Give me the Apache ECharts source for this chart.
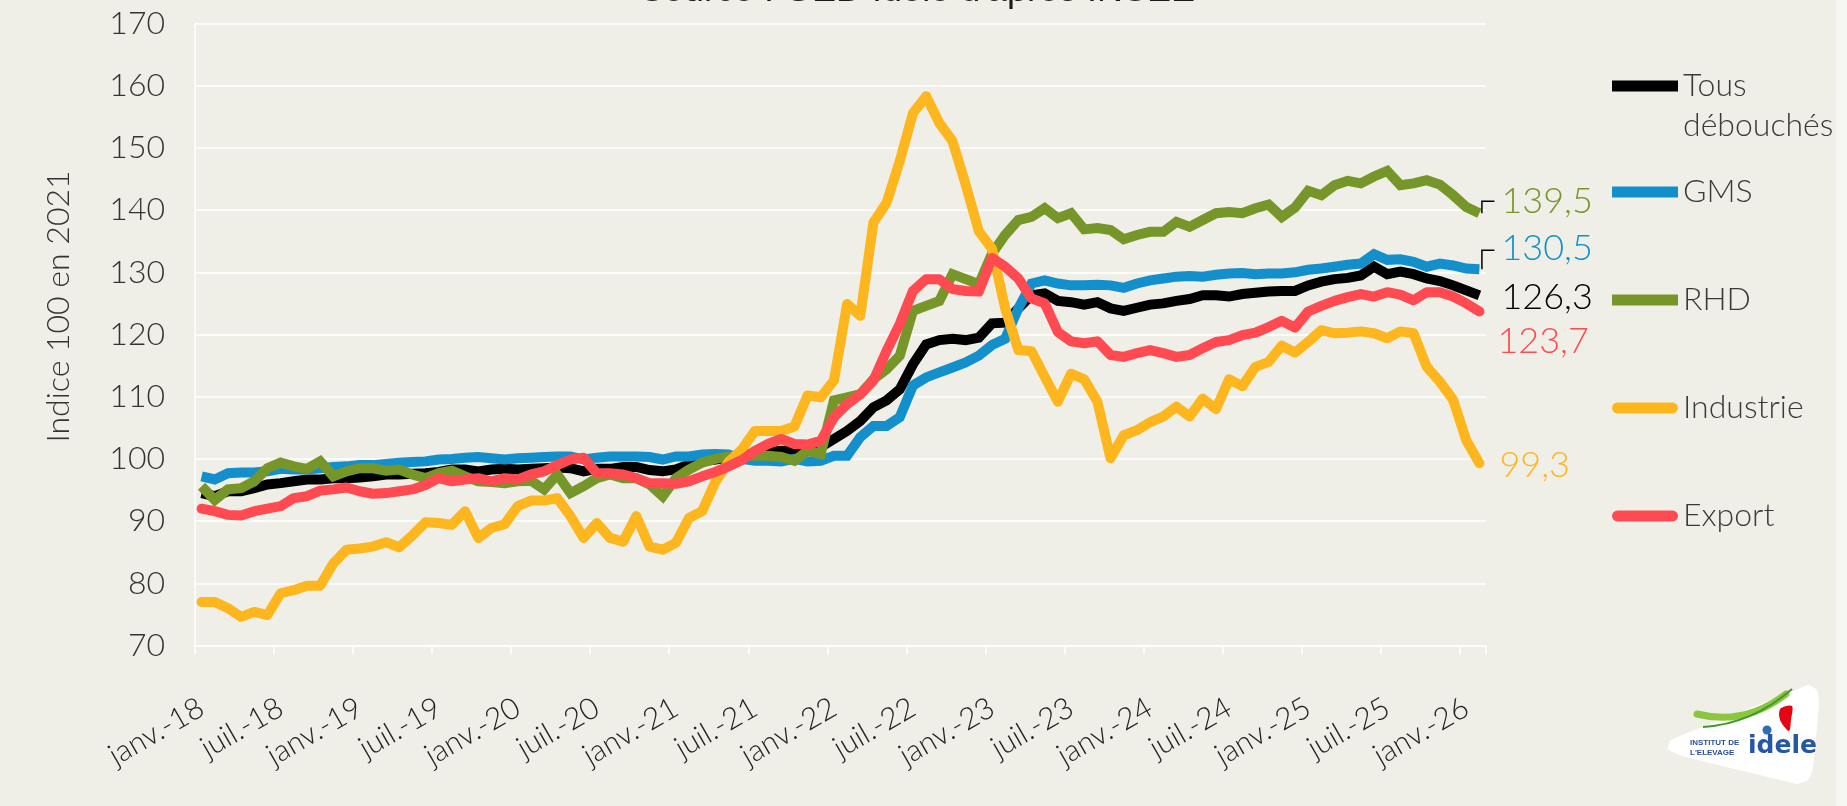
<!DOCTYPE html>
<html>
<head>
<meta charset="utf-8">
<title>Indice 100 en 2021</title>
<script src="https://cdn.jsdelivr.net/npm/echarts@6/dist/echarts.min.js"></script>
<style>
  html, body { margin: 0; padding: 0; background: #efefe8; }
  #chart { width: 1847px; height: 806px; }
</style>
</head>
<body>
<div id="chart"></div>
<script>
// mois : janv. 2018 -> févr. 2026
const moisFr = ["janv.", "févr.", "mars", "avr.", "mai", "juin", "juil.", "août", "sept.", "oct.", "nov.", "déc."];
const startYear = 18;
const nbMois = 98;

const tousDebouches = [
  94.5, 94.0, 94.8, 94.8, 95.3, 95.9, 96.1, 96.4, 96.7, 96.7, 96.9, 96.9,
  97.0, 97.2, 97.5, 97.5, 97.6, 97.7, 97.9, 98.3, 98.3, 98.0, 98.3, 98.4,
  98.3, 98.4, 98.5, 98.6, 98.5, 98.0, 98.4, 98.4, 98.7, 98.7, 98.2, 98.0,
  98.3, 99.1, 99.6, 99.9, 100.2, 100.6, 100.9, 101.1, 101.3, 101.3, 101.4, 101.9,
  103.2, 104.5, 106.1, 108.3, 109.4, 111.2, 115.2, 118.4, 119.1, 119.3, 119.1, 119.5,
  121.8, 121.9, 124.2, 126.3, 126.6, 125.4, 125.2, 124.8, 125.2, 124.2, 123.8, 124.3,
  124.8, 125.0, 125.4, 125.7, 126.3, 126.3, 126.1, 126.5, 126.7, 126.9, 127.0, 127.0,
  127.9, 128.5, 128.9, 129.1, 129.5, 130.9, 129.7, 130.1, 129.7, 129.0, 128.6, 127.9,
  127.1, 126.3
];
const gms = [
  97.2, 96.7, 97.7, 97.8, 97.8, 98.0, 98.4, 98.3, 98.3, 98.5, 98.7, 98.8,
  99.0, 99.0, 99.2, 99.4, 99.5, 99.6, 99.9, 100.0, 100.2, 100.3, 100.1, 99.9,
  100.1, 100.2, 100.3, 100.4, 100.4, 99.9, 100.2, 100.4, 100.4, 100.4, 100.3, 99.9,
  100.4, 100.4, 100.7, 100.8, 100.7, 100.0, 99.7, 99.7, 99.6, 100.0, 99.6, 99.7,
  100.5, 100.5, 103.5, 105.3, 105.3, 106.7, 111.8, 113.1, 113.9, 114.7, 115.5, 116.6,
  118.3, 119.3, 124.2, 128.2, 128.7, 128.2, 127.9, 127.9, 128.0, 127.9, 127.5, 128.2,
  128.7, 129.0, 129.3, 129.4, 129.3, 129.6, 129.8, 129.9, 129.7, 129.8, 129.8, 130.0,
  130.4, 130.6, 130.9, 131.2, 131.4, 132.9, 132.0, 132.1, 131.7, 130.9, 131.4, 131.1,
  130.6, 130.5
];
const rhd = [
  95.6, 93.4, 95.1, 95.3, 96.4, 98.5, 99.4, 98.8, 98.4, 99.6, 97.2, 98.0,
  98.5, 98.5, 98.1, 98.3, 97.5, 96.9, 97.7, 98.1, 97.2, 96.4, 96.3, 96.1,
  96.4, 96.5, 95.1, 97.5, 94.5, 95.6, 96.9, 97.5, 96.9, 96.9, 95.9, 94.0,
  96.9, 98.3, 99.4, 100.0, 100.4, 100.5, 100.5, 100.5, 100.3, 99.7, 101.3, 100.8,
  109.4, 109.9, 110.4, 112.8, 114.4, 116.6, 123.8, 124.6, 125.4, 129.7, 128.9, 128.1,
  133.0, 136.0, 138.4, 138.9, 140.3, 138.7, 139.5, 136.9, 137.1, 136.8, 135.3, 136.0,
  136.5, 136.5, 138.1, 137.3, 138.4, 139.5, 139.7, 139.5, 140.3, 140.9, 138.9, 140.4,
  143.1, 142.4, 144.0, 144.7, 144.3, 145.4, 146.3, 144.0, 144.3, 144.8, 144.1, 142.4,
  140.5, 139.5
];
const industrie = [
  77.0, 77.0, 76.0, 74.6, 75.4, 74.9, 78.4, 78.9, 79.6, 79.6, 83.2, 85.4,
  85.6, 85.9, 86.6, 85.8, 87.7, 89.8, 89.7, 89.4, 91.6, 87.3, 88.9, 89.5,
  92.4, 93.3, 93.3, 93.7, 90.8, 87.3, 89.7, 87.3, 86.7, 90.8, 85.9, 85.4,
  86.5, 90.5, 91.6, 96.3, 99.5, 101.5, 104.5, 104.5, 104.5, 105.2, 110.2, 109.9,
  112.6, 124.9, 123.0, 138.0, 141.2, 147.9, 155.6, 158.3, 154.0, 151.1, 144.1, 136.6,
  133.8, 124.2, 117.5, 117.3, 113.2, 109.2, 113.7, 112.8, 109.2, 100.1, 103.8, 104.6,
  105.9, 106.8, 108.4, 106.8, 109.7, 108.0, 112.8, 111.7, 114.8, 115.6, 118.2, 117.1,
  118.8, 120.7, 120.2, 120.3, 120.5, 120.2, 119.4, 120.5, 120.2, 114.8, 112.4, 109.5,
  103.0, 99.3
];
const exportSerie = [
  92.0, 91.6, 91.0, 90.9, 91.6, 92.0, 92.4, 93.7, 94.0, 94.9, 95.1, 95.4,
  94.8, 94.4, 94.5, 94.8, 95.1, 95.8, 96.9, 96.4, 96.7, 96.9, 96.4, 96.9,
  96.7, 97.5, 98.0, 99.0, 99.9, 100.2, 97.7, 97.7, 97.5, 96.9, 96.1, 96.1,
  96.0, 96.4, 97.2, 97.9, 98.8, 99.8, 101.3, 102.4, 103.2, 102.4, 102.3, 102.9,
  106.7, 108.8, 110.4, 112.6, 117.4, 121.7, 127.0, 128.9, 128.9, 127.3, 127.0, 126.9,
  132.3, 130.9, 129.0, 125.8, 125.0, 120.4, 118.9, 118.6, 118.9, 116.7, 116.4, 117.0,
  117.5, 117.0, 116.4, 116.7, 117.8, 118.8, 119.1, 119.9, 120.3, 121.2, 122.2, 121.1,
  123.7, 124.6, 125.4, 126.0, 126.5, 126.1, 126.8, 126.4, 125.5, 126.8, 126.8, 126.1,
  125.0, 123.7
];

const categories = [];
for (let i = 0; i < nbMois; i++) {
  categories.push(moisFr[i % 12] + "-" + (startYear + Math.floor(i / 12)));
}

const FONT = "Lato";
const roundIcon = "path://M5,0 L61,0 A5.5,5.5 0 0 1 61,11 L5,11 A5.5,5.5 0 0 1 5,0 Z";

// series : nom, données, couleur, extrémité, décalage de l'étiquette de fin
const seriesDef = [
  { name: "Tous débouchés", data: tousDebouches, color: "#000000", cap: "butt", icon: "rect", off: [22, 2], legendTop: 26 },
  { name: "GMS", data: gms, color: "#1390cc", cap: "butt", icon: "rect", off: [22, -21], legendTop: 172, leader: 19 },
  { name: "RHD", data: rhd, color: "#77962a", cap: "butt", icon: "rect", off: [22, -12], legendTop: 280, leader: 12 },
  { name: "Industrie", data: industrie, color: "#fdb61e", cap: "round", icon: roundIcon, off: [20, 2], legendTop: 388 },
  { name: "Export", data: exportSerie, color: "#ff4a52", cap: "round", icon: roundIcon, off: [18, 30], legendTop: 496 },
];

var myChart = echarts.init(document.getElementById("chart"));

const fmt = (v) => v.toFixed(1).replace(".", ",");

myChart.setOption({
  animation: false,
  backgroundColor: "#efefe8",
  textStyle: { fontFamily: FONT },
  title: {
    text: "Source : GEB-Idele d'après INSEE",
    left: 640,
    top: -27,
    padding: 0,
    textStyle: { fontFamily: "Liberation Sans", fontSize: 36, fontWeight: "normal", color: "#1a1a1a" },
  },
  grid: { left: 195, right: 361, top: 23.5, bottom: 160.5 },
  legend: seriesDef.map((s) => ({
    data: [{ name: s.name, icon: s.icon }],
    orient: "vertical",
    left: 1612,
    top: s.legendTop,
    padding: 0,
    itemWidth: 66,
    itemHeight: 11,
    selectedMode: false,
    formatter: (name) => (name === "Tous débouchés" ? "\nTous\ndébouchés" : name),
    textStyle: { fontFamily: FONT, fontWeight: 300, fontSize: 32, lineHeight: 40, color: "#3a3a3a" },
  })),
  xAxis: {
    type: "category",
    data: categories,
    boundaryGap: true,
    axisLine: { lineStyle: { color: "#ffffff", width: 1.5 } },
    axisTick: { show: true, interval: 5, length: 9, lineStyle: { color: "#ffffff", width: 1.5 } },
    axisLabel: {
      interval: 5,
      rotate: 30,
      margin: 60,
      fontFamily: FONT,
      fontWeight: 300,
      fontSize: 30,
      color: "#222",
    },
    splitLine: { show: false },
  },
  yAxis: {
    type: "value",
    min: 70,
    max: 170,
    interval: 10,
    name: "Indice 100 en 2021",
    nameLocation: "middle",
    nameGap: 120,
    nameTextStyle: { fontFamily: FONT, fontWeight: 300, fontSize: 32, color: "#333", padding: [0, 0, 0, 56] },
    axisLine: { show: true, lineStyle: { color: "#ffffff", width: 1.5 } },
    axisTick: { show: false },
    axisLabel: { margin: 30, fontFamily: FONT, fontWeight: 300, fontSize: 32, color: "#333" },
    splitLine: { lineStyle: { color: "#ffffff", width: 1.5 } },
  },
  series: seriesDef.map((s) => ({
    name: s.name,
    type: "line",
    data: s.data,
    symbol: "none",
    color: s.color,
    lineStyle: { width: 10, color: s.color, cap: s.cap, join: s.cap === "round" ? "round" : "miter" },
    endLabel: {
      show: true,
      distance: 0,
      offset: s.off,
      formatter: (p) => fmt(p.value),
      color: s.color,
      fontFamily: FONT,
      fontWeight: 300,
      fontSize: 36,
    },
  })),
});

// petits traits de rappel vers les étiquettes 139,5 et 130,5 + logo
const graphics = [];
seriesDef.forEach((s, idx) => {
  if (!s.leader) return;
  const last = s.data.length - 1;
  const p = myChart.convertToPixel({ seriesIndex: idx }, [last, s.data[last]]);
  graphics.push({
    type: "polyline",
    shape: { points: [[p[0] + 2.5, p[1]], [p[0] + 2.5, p[1] - s.leader], [p[0] + 15, p[1] - s.leader]] },
    style: { stroke: "#000", lineWidth: 1.5, fill: null },
    z: 10,
  });
});

graphics.push(
  {
    type: "rect",
    shape: { x: 1836, y: 0, width: 11, height: 806 },
    style: { fill: "#f6f6f2" },
    z: -1,
  },
  {
    type: "polygon",
    shape: {
      points: [[1796, 690], [1808, 685], [1817, 690], [1819, 702], [1813, 768], [1808, 780],
               [1797, 784], [1789, 782], [1682, 756], [1668, 749], [1670, 741], [1680, 736]],
      smooth: 0.15,
    },
    style: { fill: "#ffffff" },
  },
  {
    type: "bezierCurve",
    shape: { x1: 1697, y1: 714, cpx1: 1745, cpy1: 726, x2: 1786, y2: 694 },
    style: { stroke: "#8cc63f", lineWidth: 7, fill: null, lineCap: "round" },
  },
  {
    type: "bezierCurve",
    shape: { x1: 1703, y1: 727, cpx1: 1752, cpy1: 724, x2: 1792, y2: 689 },
    style: { stroke: "#3f9a2e", lineWidth: 2, fill: null },
  },
  {
    type: "polygon",
    shape: { points: [[1781, 708], [1792, 706], [1791, 720], [1789, 731], [1781, 722], [1779, 714]], smooth: 0.3 },
    style: { fill: "#e30613" },
  },
  {
    type: "circle",
    shape: { cx: 1767, cy: 730, r: 4.5 },
    style: { fill: "#2f6db5" },
  },
  {
    type: "text",
    x: 1690,
    y: 738,
    style: { text: "INSTITUT DE\nL'ELEVAGE", fill: "#27509b", font: "bold 8px 'Liberation Sans Narrow', 'Liberation Sans'", lineHeight: 10 },
  },
  {
    type: "text",
    x: 1748,
    y: 734,
    style: { text: "idele", fill: "#2457a6", font: "bold 25px 'DejaVu Sans'" },
  }
);

myChart.setOption({ graphic: graphics });
</script>
</body>
</html>
